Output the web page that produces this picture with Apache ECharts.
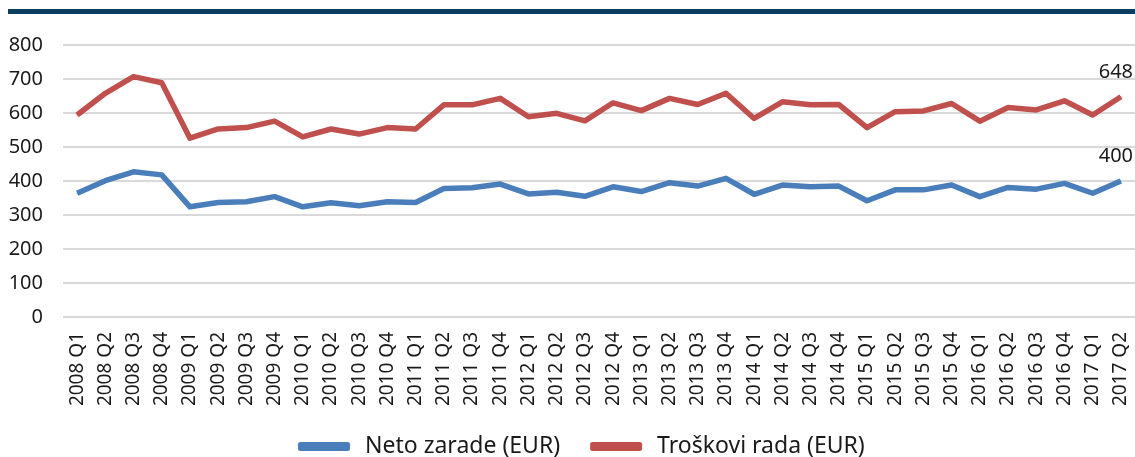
<!DOCTYPE html>
<html>
<head>
<meta charset="utf-8">
<script src="https://cdn.jsdelivr.net/npm/echarts@6/dist/echarts.min.js"></script>
<style>
  html, body { margin: 0; padding: 0; background: #fff; }
  #chart { width: 1135px; height: 457px; }
</style>
</head>
<body>
<div id="chart"></div>
<script>
  const quarters = [
    "2008 Q1", "2008 Q2", "2008 Q3", "2008 Q4",
    "2009 Q1", "2009 Q2", "2009 Q3", "2009 Q4",
    "2010 Q1", "2010 Q2", "2010 Q3", "2010 Q4",
    "2011 Q1", "2011 Q2", "2011 Q3", "2011 Q4",
    "2012 Q1", "2012 Q2", "2012 Q3", "2012 Q4",
    "2013 Q1", "2013 Q2", "2013 Q3", "2013 Q4",
    "2014 Q1", "2014 Q2", "2014 Q3", "2014 Q4",
    "2015 Q1", "2015 Q2", "2015 Q3", "2015 Q4",
    "2016 Q1", "2016 Q2", "2016 Q3", "2016 Q4",
    "2017 Q1", "2017 Q2"
  ];

  const netoZarade = [
    364, 401, 427, 418, 324, 337, 339, 354,
    324, 336, 327, 339, 337, 378, 380, 391,
    362, 367, 355, 383, 369, 395, 385, 408,
    361, 388, 383, 385, 342, 374, 374, 388,
    354, 381, 376, 393, 364, 400
  ];

  const troskoviRada = [
    594, 658, 707, 689, 526, 553, 557, 576,
    530, 553, 538, 557, 553, 624, 624, 643,
    589, 599, 577, 630, 607, 643, 625, 658,
    584, 633, 624, 625, 557, 604, 606, 628,
    576, 616, 609, 636, 594, 648
  ];

  const seriesNames = ["Neto zarade (EUR)", "Troškovi rada (EUR)"];
  const colors = ["#4a7ebb", "#c0504d"];

  // value label only on the last point
  function withEndLabel(values) {
    return values.map((v, i) => {
      if (i !== values.length - 1) return v;
      return {
        value: v,
        label: {
          show: true,
          position: "top",
          distance: 14,
          offset: [-5, 0],
          color: "#1a1a1a",
          fontSize: 20,
          fontFamily: "Noto Sans"
        }
      };
    });
  }

  function lineSeries(name, values, color) {
    return {
      name: name,
      type: "line",
      data: withEndLabel(values),
      symbol: "circle",
      symbolSize: 1,
      showSymbol: true,
      lineStyle: { width: 5.5, color: color, join: "round" },
      itemStyle: { color: color }
    };
  }

  const chart = echarts.init(document.getElementById("chart"));
  chart.setOption({
    animation: false,
    textStyle: { fontFamily: "Noto Sans" },
    graphic: [
      {
        type: "rect",
        shape: { x: 8, y: 9, width: 1127, height: 5 },
        style: { fill: "#0b3f60" }
      }
    ],
    grid: {
      left: 63,
      right: -1,
      top: 45,
      bottom: 140
    },
    legend: {
      top: 430,
      left: 293,
      itemGap: 30,
      itemWidth: 52,
      itemHeight: 9,
      icon: "roundRect",
      textStyle: {
        fontSize: 23,
        color: "#1a1a1a",
        fontFamily: "Noto Sans",
        padding: [0, 0, 0, 10]
      },
      data: seriesNames
    },
    xAxis: {
      type: "category",
      data: quarters,
      boundaryGap: true,
      axisLine: { show: false },
      axisTick: { show: false },
      axisLabel: {
        rotate: 90,
        interval: 0,
        margin: 15,
        fontSize: 19,
        color: "#1a1a1a"
      }
    },
    yAxis: {
      type: "value",
      min: 0,
      max: 800,
      interval: 100,
      axisLine: { show: false },
      axisTick: { show: false },
      axisLabel: {
        margin: 20,
        fontSize: 20,
        color: "#1a1a1a"
      },
      splitLine: {
        lineStyle: { color: "#d9d9d9", width: 2 }
      }
    },
    series: [
      lineSeries(seriesNames[0], netoZarade, colors[0]),
      lineSeries(seriesNames[1], troskoviRada, colors[1])
    ]
  });
</script>
</body>
</html>
